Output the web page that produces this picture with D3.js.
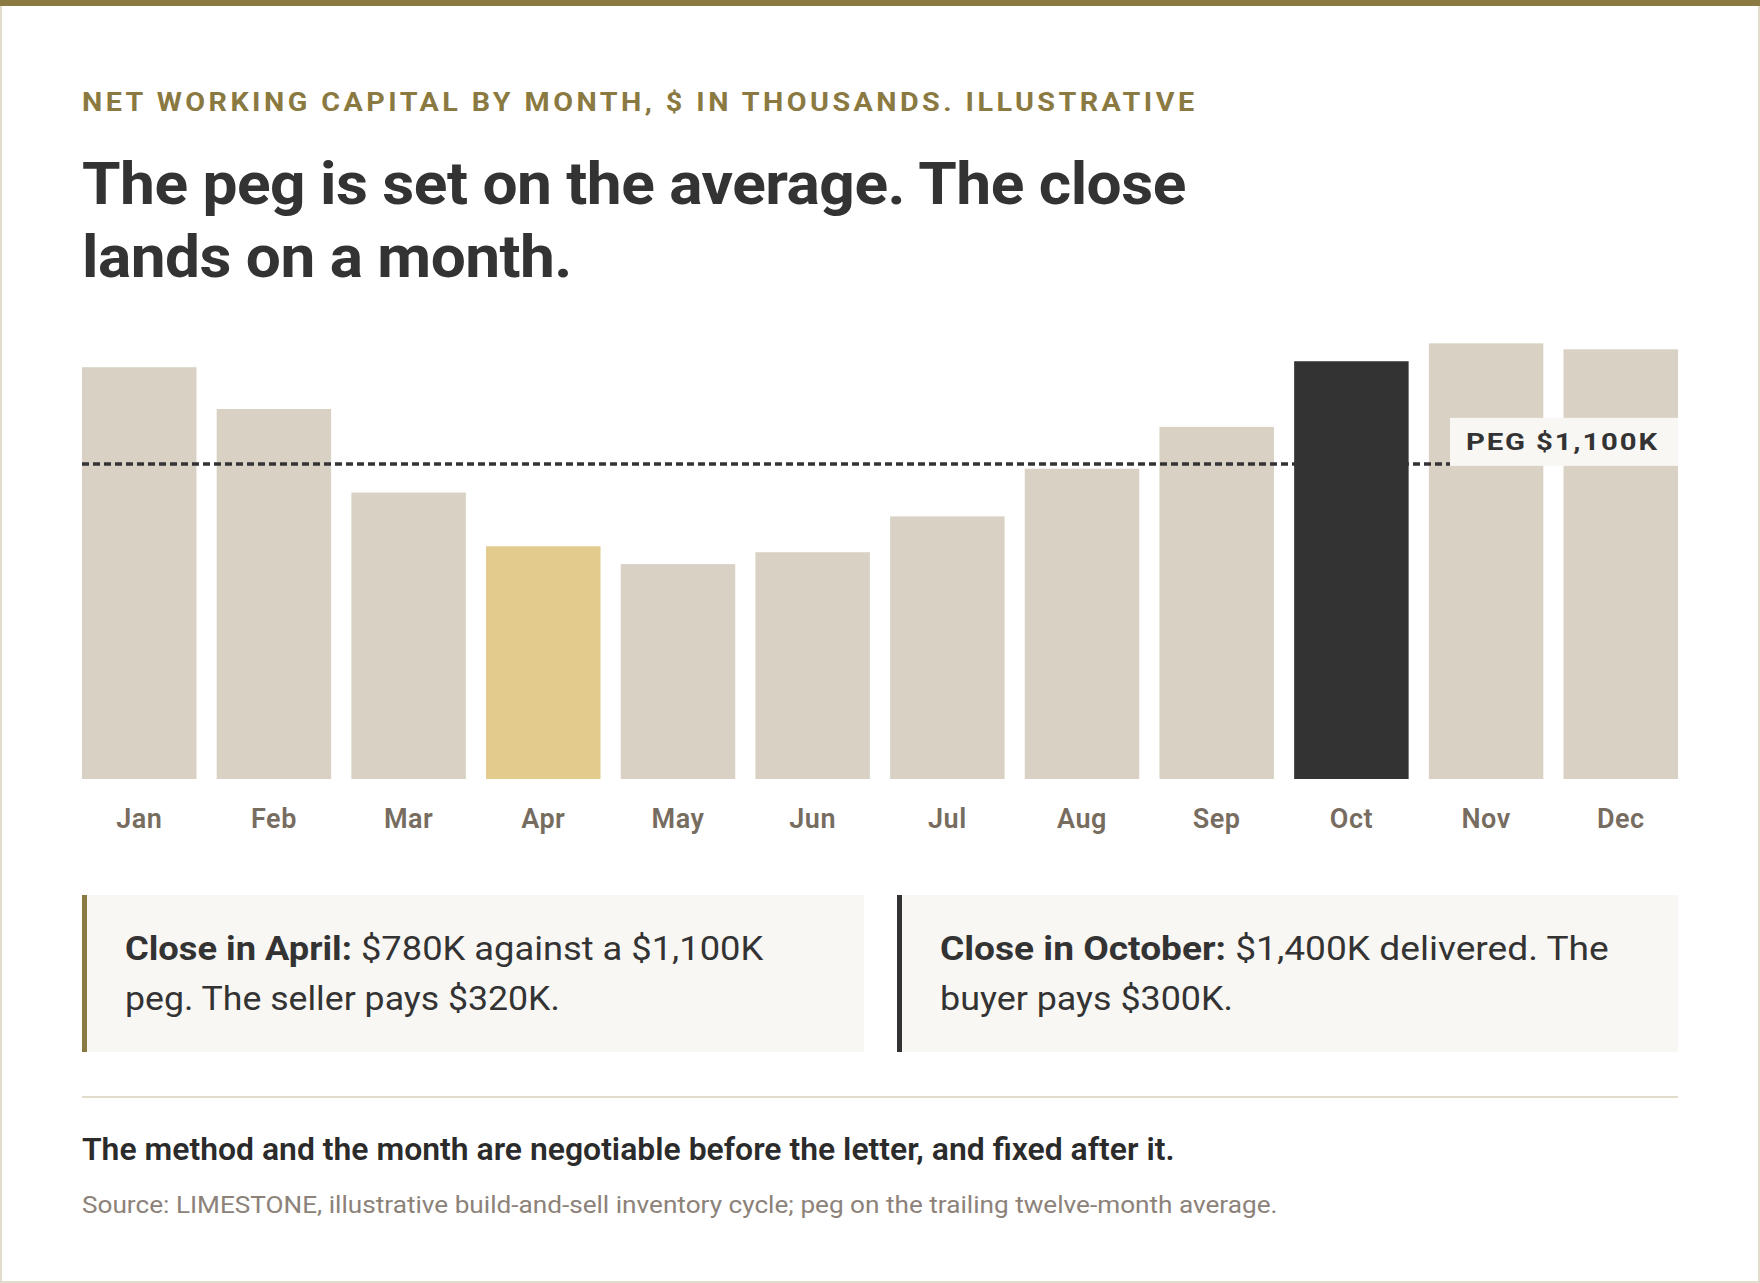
<!DOCTYPE html>
<html>
<head>
<meta charset="utf-8">
<script src="https://cdn.jsdelivr.net/npm/d3@7"></script>
<style>
  html, body { margin: 0; padding: 0; background: #ffffff; }
  svg { display: block; }
  text { font-family: Roboto, "Noto Sans", sans-serif; }
</style>
</head>
<body>
<svg id="chart" width="1760" height="1283"></svg>
<script>
// ---------- data ----------
const months = ["Jan","Feb","Mar","Apr","May","Jun","Jul","Aug","Sep","Oct","Nov","Dec"];
const nwcValues = [1380, 1240, 960, 780, 720, 760, 880, 1040, 1180, 1400, 1460, 1440]; // $K
const pegLineValue = 1056;           // where the dashed peg line sits ($K)
const pegLabel = "PEG $1,100K";
const highlightMonths = ["Apr", "Oct"];

const subtitleText = "NET WORKING CAPITAL BY MONTH, $ IN THOUSANDS. ILLUSTRATIVE";
const titleLines = ["The peg is set on the average. The close", "lands on a month."];
const calloutLeft = [[["Close in April:", true], [" $780K against a $1,100K", false]], [["peg. The seller pays $320K.", false]]];
const calloutRight = [[["Close in October:", true], [" $1,400K delivered. The", false]], [["buyer pays $300K.", false]]];
const footerText = "The method and the month are negotiable before the letter, and fixed after it.";
const sourceText = "Source: LIMESTONE, illustrative build-and-sell inventory cycle; peg on the trailing twelve-month average.";

// ---------- drawing ----------
const svg = d3.select("#chart");
const W = 1760, H = 1283;
const GOLD = "#8a7941", DARK = "#333333", BEIGE = "#d9d2c4", APRIL = "#e3cb8e", BORDER = "#e2dccd", PANEL = "#f9f7f3";

// card
svg.append("rect").attr("x", 1).attr("y", 1).attr("width", W - 2).attr("height", H - 2)
  .attr("fill", "#ffffff").attr("stroke", BORDER).attr("stroke-width", 2);
svg.append("rect").attr("x", 0).attr("y", 0).attr("width", W).attr("height", 6).attr("fill", GOLD);

// helper: place text and squeeze to a target width
function fitText(g, x, y, target) {
  const node = g.node();
  const w = node.getBBox().width;
  const sx = target ? target / w : 1;
  g.attr("transform", `translate(${x},${y}) scale(${sx},1)`);
}

function addText(parent, str, opts) {
  const t = parent.append("text").attr("x", 0).attr("y", 0)
    .attr("font-size", opts.size).attr("font-weight", opts.weight || 400)
    .attr("fill", opts.fill).attr("letter-spacing", opts.ls || 0)
    .text(str);
  fitText(t, opts.x, opts.y, opts.target);
  return t;
}

// subtitle & title
addText(svg, subtitleText, {x: 82, y: 111, size: 25, weight: 700, fill: GOLD, ls: 3, target: 1116});
addText(svg, titleLines[0], {x: 82, y: 204, size: 60, weight: 700, fill: DARK, ls: -0.5, target: 1104});
addText(svg, titleLines[1], {x: 82, y: 277, size: 60, weight: 700, fill: DARK, ls: -0.5, target: 490});

// scales
const x = d3.scaleBand().domain(months).range([82, 1678]).paddingInner(0.15).paddingOuter(0);
const y = d3.scaleLinear().domain([0, 1500]).range([779, 779 - 1500 * 0.2984]);

const data = months.map((m, i) => ({month: m, value: nwcValues[i]}));

svg.append("g").selectAll("rect").data(data).join("rect")
  .attr("x", d => x(d.month))
  .attr("y", d => y(d.value))
  .attr("width", x.bandwidth())
  .attr("height", d => y(0) - y(d.value))
  .attr("fill", d => d.month === highlightMonths[0] ? APRIL : (d.month === highlightMonths[1] ? DARK : BEIGE));

// month axis
const axis = d3.axisBottom(x).tickSize(0).tickPadding(0);
const axG = svg.append("g").attr("transform", `translate(0,${y(0)})`).call(axis);
axG.select(".domain").remove();
axG.selectAll(".tick text")
  .attr("y", 49).attr("dy", 0)
  .attr("font-family", "Roboto, sans-serif")
  .attr("font-size", 27).attr("font-weight", 600)
  .attr("letter-spacing", 0.5)
  .attr("fill", "#776c60")
  .attr("x", 0);

// peg line + label
const pegY = y(pegLineValue);
const boxW = 228, boxH = 48;
const boxX = x.range()[1] - boxW;
svg.append("line")
  .attr("x1", x.range()[0]).attr("x2", boxX)
  .attr("y1", pegY).attr("y2", pegY)
  .attr("stroke", DARK).attr("stroke-width", 3.5).attr("stroke-dasharray", "7,4");
svg.append("rect").attr("x", boxX).attr("y", pegY - boxH + 2).attr("width", boxW).attr("height", boxH).attr("fill", PANEL);
addText(svg, pegLabel, {x: boxX + 16, y: pegY - 14, size: 24, weight: 700, fill: DARK, ls: 1.5, target: 193});

// callouts
function callout(x0, x1, borderColor, lines, targets) {
  const top = 895, h = 157;
  svg.append("rect").attr("x", x0).attr("y", top).attr("width", x1 - x0).attr("height", h).attr("fill", PANEL);
  svg.append("rect").attr("x", x0).attr("y", top).attr("width", 5).attr("height", h).attr("fill", borderColor);
  lines.forEach((parts, i) => {
    const t = svg.append("text").attr("x", 0).attr("y", 0).attr("font-size", 34).attr("fill", DARK);
    parts.forEach(([s, bold]) => {
      t.append("tspan").attr("font-weight", bold ? 700 : 400).text(s);
    });
    fitText(t, x0 + 43, 960 + i * 50, targets[i]);
  });
}
callout(82, 864, GOLD, calloutLeft, [639, 435]);
callout(897, 1678, DARK, calloutRight, [669, 293]);

// separator and footer
svg.append("line").attr("x1", 82).attr("x2", 1678).attr("y1", 1097).attr("y2", 1097)
  .attr("stroke", BORDER).attr("stroke-width", 2);
addText(svg, footerText, {x: 82, y: 1160, size: 31, weight: 600, fill: "#2b2b2b", target: 1093});
addText(svg, sourceText, {x: 82, y: 1213, size: 23, weight: 400, fill: "#8c8279", target: 1196});
</script>
</body>
</html>
